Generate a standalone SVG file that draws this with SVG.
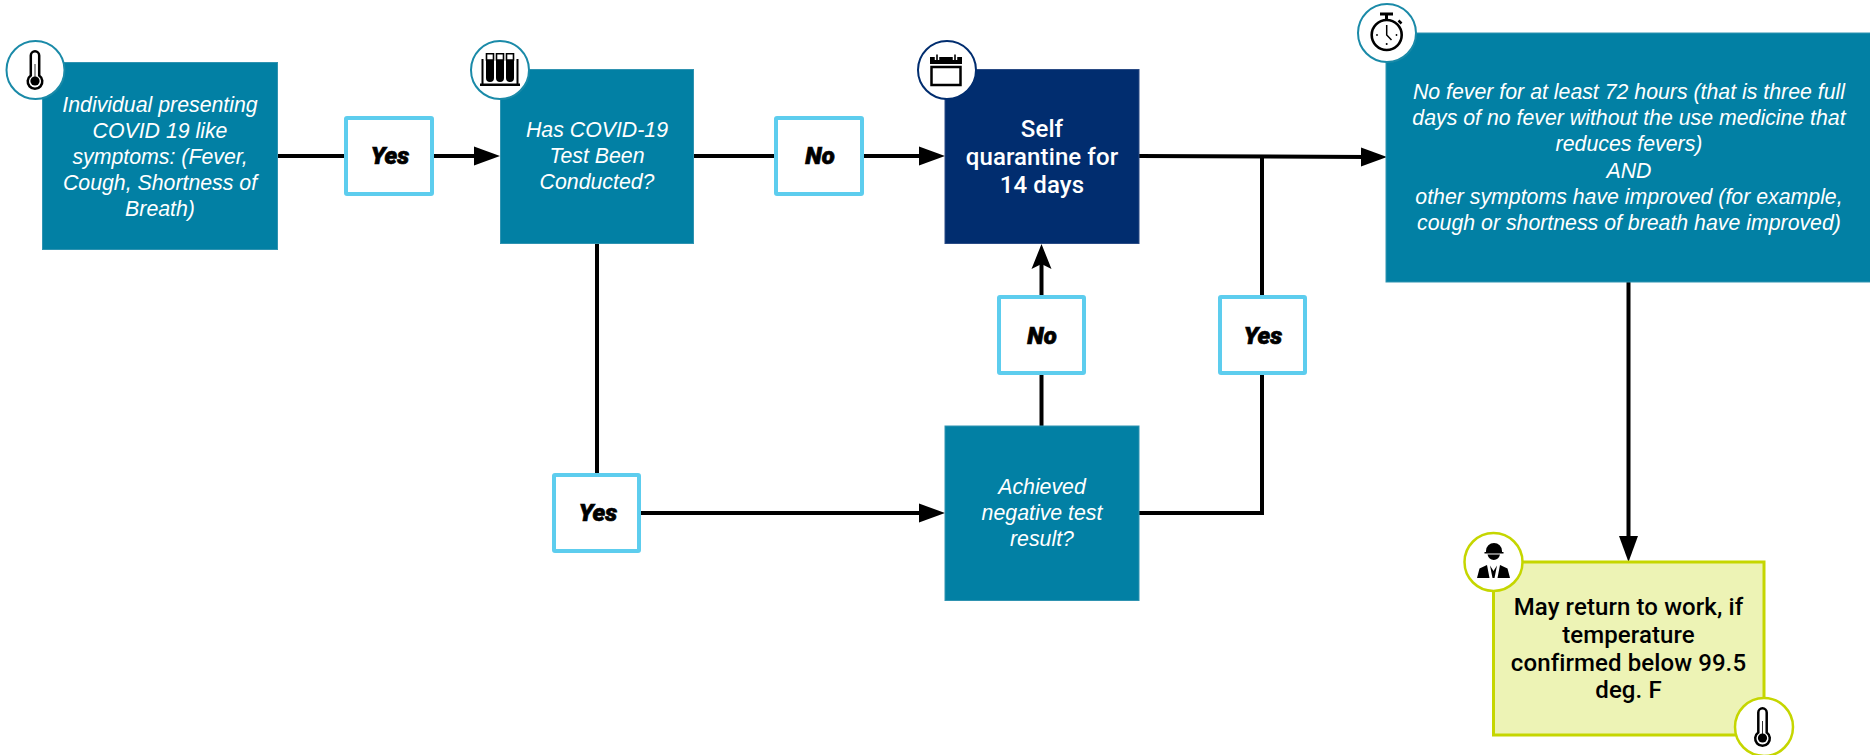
<svg xmlns="http://www.w3.org/2000/svg" width="1870" height="755" viewBox="0 0 1870 755">
<style>
.teal{fill:#0280a4;stroke:#2f93b1;stroke-width:1}
.navy{fill:#012d6f;stroke:#2a4b85;stroke-width:1}
.lab{fill:#fff;stroke:#5dcdee;stroke-width:4}
.green{fill:#edf3b5;stroke:#c5d600;stroke-width:3}
.ct{fill:#fff;stroke:#1a8aa8;stroke-width:2}
.cn{fill:#fff;stroke:#012d6f;stroke-width:2}
.cg{fill:#fff;stroke:#c5d600;stroke-width:2.5}
.it{font-family:"Liberation Sans",Arial,sans-serif;font-style:italic;font-size:21.3px;fill:#fff;text-anchor:middle}
.ro{font-family:Roboto,"Liberation Sans",sans-serif;font-weight:500;font-size:24px;text-anchor:middle;letter-spacing:0.100px}
.yn{font-family:Roboto,"Liberation Sans",sans-serif;font-weight:900;font-style:italic;font-size:24px;fill:#000;stroke:#000;stroke-width:0.700;text-anchor:middle}
.c{fill:none;stroke:#000;stroke-width:4}
.ik{fill:#000;stroke:none}
.il{fill:none;stroke:#000;stroke-width:2.5}
</style>
<defs>
<marker id="ah" markerUnits="userSpaceOnUse" markerWidth="27" markerHeight="20" viewBox="0 0 27 20" refX="6" refY="10" orient="auto"><path d="M0,0.500L26,10L0,19.500z" fill="#000"/></marker>
<marker id="ab" markerUnits="userSpaceOnUse" markerWidth="26" markerHeight="22" viewBox="0 0 26 22" refX="5" refY="11" orient="auto"><path d="M0,1L25,11L0,21L5,11z" fill="#000"/></marker>
<g id="therm">
<path d="M-4.200,6.500V-13.500a4.200,4.200 0 0 1 8.400,0V6.500a7.300,7.300 0 1 1-8.400,0z" fill="#fff" stroke="#000" stroke-width="2.500"/>
<path d="M-0.500,-5H0.500V8H-0.500z" fill="#333"/>
<circle cx="0" cy="12" r="4.600" fill="#000"/>
</g>
</defs>
<g id="connectors">
<path class="c" d="M278,156H344"/>
<path class="c" d="M434,156H480" marker-end="url(#ah)"/>
<path class="c" d="M694,156H774"/>
<path class="c" d="M864,156H925" marker-end="url(#ah)"/>
<path class="c" d="M1139,156L1367,157" marker-end="url(#ah)"/>
<path class="c" d="M597,243V473"/>
<path class="c" d="M641,513H925" marker-end="url(#ah)"/>
<path class="c" d="M1041.500,426V375"/>
<path class="c" d="M1041.500,295V264" marker-end="url(#ab)"/>
<path class="c" d="M1139,513H1262V375"/>
<path class="c" d="M1262,295V157"/>
<path class="c" d="M1628.500,282V542" marker-end="url(#ah)"/>
</g>
<g id="node-symptoms">
<rect class="teal" x="42.500" y="62.500" width="235" height="187"/>
<text class="it" x="160" y="112">Individual presenting</text>
<text class="it" x="160" y="138">COVID 19 like</text>
<text class="it" x="160" y="164">symptoms: (Fever,</text>
<text class="it" x="160" y="190">Cough, Shortness of</text>
<text class="it" x="160" y="216">Breath)</text>
<circle class="ct" cx="35.500" cy="70" r="29"/>
<use href="#therm" x="35" y="69"/>
</g>
<g id="label-yes-1"><rect class="lab" x="346" y="118" width="86" height="76" rx="1"/><text class="yn" x="390" y="164">Yes</text></g>
<g id="node-test">
<rect class="teal" x="500.500" y="69.500" width="193" height="174"/>
<text class="it" x="597" y="137">Has COVID-19</text>
<text class="it" x="597" y="163">Test Been</text>
<text class="it" x="597" y="189">Conducted?</text>
<circle class="ct" cx="500" cy="70" r="29"/>
<g>
<path class="ik" d="M480,83.500H520V86H480zM481.500,59H483.500V84H481.500zM516.500,59H518.500V84H516.500z"/>
<path class="ik" d="M486,60H494V78a4,4 0 0 1-8,0zM496,60H504V78a4,4 0 0 1-8,0zM506,60H514V78a4,4 0 0 1-8,0z"/>
<path class="il" style="stroke-width:1.600" d="M486.500,53.800H493.500V60H486.500zM496.500,53.800H503.500V60H496.500zM506.500,53.800H513.500V60H506.500z"/>
</g>
</g>
<g id="label-no-1"><rect class="lab" x="776" y="118" width="86" height="76" rx="1"/><text class="yn" x="820" y="164">No</text></g>
<g id="node-quarantine">
<rect class="navy" x="945" y="69.500" width="194" height="174"/>
<text class="ro" x="1042" y="137" fill="#fff">Self</text>
<text class="ro" x="1042" y="165" fill="#fff">quarantine for</text>
<text class="ro" x="1042" y="193" fill="#fff">14 days</text>
<circle class="cn" cx="947" cy="70" r="29"/>
<g>
<path class="ik" d="M930,57H962V64H930z"/>
<rect x="931.500" y="67" width="29" height="18" fill="#fff" stroke="#000" stroke-width="2.500"/>
<path d="M937,54.500V60M955,54.500V60" stroke="#fff" stroke-width="4.500" fill="none"/>
<path d="M937,54.500V60M955,54.500V60" stroke="#000" stroke-width="1.600" fill="none"/>
</g>
</g>
<g id="node-clear">
<rect class="teal" x="1386" y="33" width="490" height="249"/>
<text class="it" x="1629" y="99">No fever for at least 72 hours (that is three full</text>
<text class="it" x="1629" y="125">days of no fever without the use medicine that</text>
<text class="it" x="1629" y="151">reduces fevers)</text>
<text class="it" x="1629" y="178">AND</text>
<text class="it" x="1629" y="204">other symptoms have improved (for example,</text>
<text class="it" x="1629" y="230">cough or shortness of breath have improved)</text>
<circle class="ct" cx="1387" cy="33" r="29"/>
<g>
<circle cx="1386.700" cy="35" r="15" fill="none" stroke="#000" stroke-width="2.600"/>
<path class="ik" d="M1380,12.500H1393V15.500H1380zM1385,15H1388V20.500H1385z"/>
<path d="M1398.500,20.500L1401.500,23.500" stroke="#000" stroke-width="2.500"/>
<path d="M1386.700,25V35L1391.500,40" fill="none" stroke="#000" stroke-width="1.500"/>
<circle class="ik" cx="1386.700" cy="44" r="1"/><circle class="ik" cx="1377" cy="35" r="0.900"/><circle class="ik" cx="1396.500" cy="35" r="0.900"/>
</g>
</g>
<g id="label-no-2"><rect class="lab" x="999" y="297" width="85" height="76" rx="1"/><text class="yn" x="1042" y="344">No</text></g>
<g id="label-yes-2"><rect class="lab" x="1220" y="297" width="85" height="76" rx="1"/><text class="yn" x="1263" y="344">Yes</text></g>
<g id="label-yes-3"><rect class="lab" x="554" y="475" width="85" height="76" rx="1"/><text class="yn" x="598" y="521">Yes</text></g>
<g id="node-negative">
<rect class="teal" x="945" y="426" width="194" height="174.500"/>
<text class="it" x="1042" y="494">Achieved</text>
<text class="it" x="1042" y="520">negative test</text>
<text class="it" x="1042" y="546">result?</text>
</g>
<g id="node-return">
<rect class="green" x="1493.500" y="562" width="270.500" height="173"/>
<text class="ro" x="1628.500" y="615" fill="#000">May return to work, if</text>
<text class="ro" x="1628.500" y="643" fill="#000">temperature</text>
<text class="ro" x="1628.500" y="671" fill="#000">confirmed below 99.5</text>
<text class="ro" x="1628.500" y="698" fill="#000">deg. F</text>
<circle class="cg" cx="1493.500" cy="562" r="29"/>
<g>
<path class="ik" d="M1486,551a8,8 0 0 1 16,0v1h1.500v1.500h-19v-1.500h1.500z"/>
<path class="ik" d="M1487.500,554.500H1500a6.500,7.500 0 0 1-12.500,0z"/>
<path class="ik" d="M1477,578L1479.500,568.500L1487,565L1489.500,578zM1510,578L1507.500,568.500L1500,565L1497.500,578zM1490,565.500L1493.500,571L1497,565.500L1494.500,578H1492.500z"/>
</g>
<circle class="cg" cx="1764" cy="727" r="29"/>
<use href="#therm" x="1762.500" y="726"/>
</g>
</svg>
